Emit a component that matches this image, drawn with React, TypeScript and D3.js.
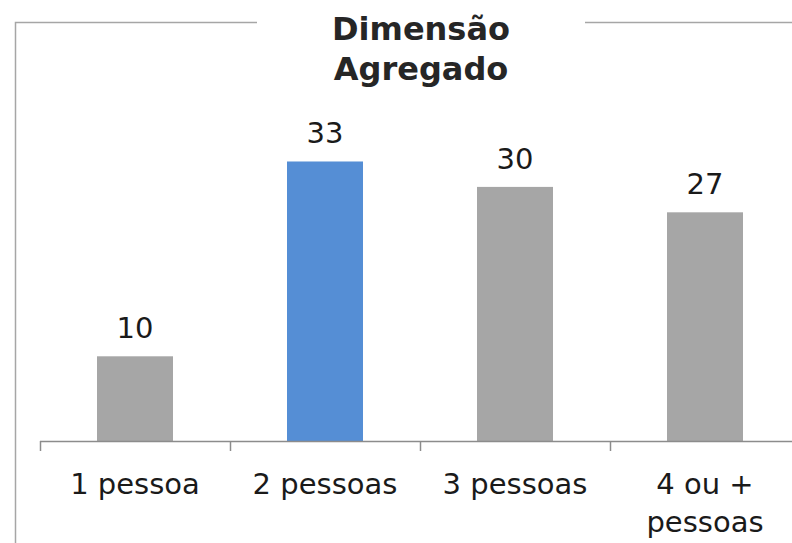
import React from "react";
import * as d3 from "d3";

const categories: string[][] = [["1 pessoa"], ["2 pessoas"], ["3 pessoas"], ["4 ou +", "pessoas"]];
const values: number[] = [10, 33, 30, 27];
const highlight: boolean[] = [false, true, false, false];
const titleLines: string[] = ["Dimensão", "Agregado"];

const W = 792;
const H = 543;
const FONT = "'DejaVu Sans', sans-serif";

export default function App() {
  const x = d3
    .scaleBand<number>()
    .domain(values.map((_, i) => i))
    .range([40, 800])
    .paddingInner(0.6)
    .paddingOuter(0.3);
  const band = d3.scaleBand<number>().domain(values.map((_, i) => i)).range([40, 800]);
  const y = d3.scaleLinear().domain([0, 35]).range([441, 441 - 35 * 8.47]);

  const ticks = [0, 1, 2, 3].map((i) => band(i)!);

  return (
    <div style={{ position: "absolute", left: 0, top: 0, margin: 0 }}>
      <svg width={W} height={H} style={{ display: "block" }}>
        <rect x={0} y={0} width={W} height={H} fill="#fff" />
        {/* frame */}
        <path d={`M15.5,${H} V22.5 H257`} fill="none" stroke="#a6a6a6" strokeWidth={1.5} />
        <path d={`M585,22.5 H${W}`} fill="none" stroke="#a6a6a6" strokeWidth={1.5} />
        {/* title */}
        {titleLines.map((t, i) => (
          <text
            key={t}
            x={421}
            y={40 + i * 40}
            textAnchor="middle"
            fontFamily={FONT}
            fontWeight="bold"
            fontSize={32}
            fill="#262626"
          >
            {t}
          </text>
        ))}
        {/* bars */}
        {values.map((v, i) => (
          <rect
            key={i}
            x={x(i)!}
            y={y(v)}
            width={x.bandwidth()}
            height={y(0) - y(v)}
            fill={highlight[i] ? "#558ed5" : "#a6a6a6"}
          />
        ))}
        {/* value labels */}
        {values.map((v, i) => (
          <text
            key={i}
            x={x(i)! + x.bandwidth() / 2}
            y={y(v) - 18}
            textAnchor="middle"
            fontFamily={FONT}
            fontSize={29}
            fill="#1a1a1a"
          >
            {v}
          </text>
        ))}
        {/* axis */}
        <line x1={40} x2={W} y1={441.5} y2={441.5} stroke="#8c8c8c" strokeWidth={1.5} />
        {ticks.map((t, i) => (
          <line key={i} x1={t + 0.5} x2={t + 0.5} y1={441} y2={451} stroke="#8c8c8c" strokeWidth={1.5} />
        ))}
        {categories.map((lines, i) =>
          lines.map((l, j) => (
            <text
              key={`${i}-${j}`}
              x={band(i)! + band.bandwidth() / 2}
              y={494 + j * 38}
              textAnchor="middle"
              fontFamily={FONT}
              fontSize={29}
              fill="#1a1a1a"
            >
              {l}
            </text>
          ))
        )}
      </svg>
    </div>
  );
}
